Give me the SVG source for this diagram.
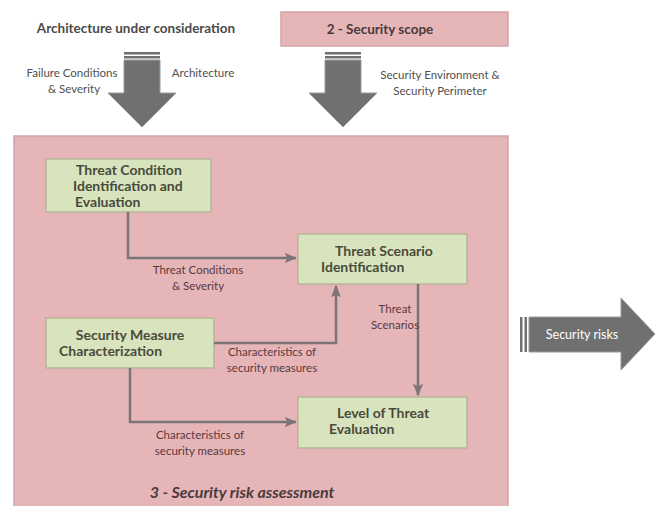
<svg xmlns="http://www.w3.org/2000/svg" width="657" height="506" viewBox="0 0 657 506">
<defs>
<style>
.pink{fill:#e6b5b8;stroke:#d2a4a6;stroke-width:1.5}
.node{fill:#d8e4bd;stroke:#b9b59a;stroke-width:1.5}
.nt{font-family:Lato,"Open Sans",sans-serif;font-weight:bold;font-size:14px;fill:#4a4a3c}
.lbl{font-family:Lato,"Open Sans",sans-serif;font-size:11.5px;fill:#5a3a3c;text-anchor:middle}
.top{font-family:Lato,"Open Sans",sans-serif;font-size:11.5px;fill:#505050;text-anchor:middle}
.conn{fill:none;stroke:#7c7476;stroke-width:2.5}
.big{fill:#707070;stroke:#9a9a9a;stroke-width:1}
.stripe{fill:#707070}
</style>
<marker id="ah" viewBox="0 0 10 10" refX="9" refY="5" markerWidth="5" markerHeight="5" orient="auto" markerUnits="strokeWidth">
<path d="M0,1 L10,5 L0,9 L2,5 Z" fill="#7c7476"/>
</marker>
</defs>
<rect width="657" height="506" fill="#ffffff"/>

<g id="arch-title">
<text x="136" y="33" class="nt" text-anchor="middle" style="fill:#4a4a4a;font-size:13.5px">Architecture under consideration</text>
</g>

<g id="security-scope">
<rect x="281" y="12" width="227" height="34" class="pink"/>
<text x="380" y="34" class="nt" text-anchor="middle" style="fill:#4a3a3a;font-size:13.5px">2 - Security scope</text>
</g>

<g id="input-arrow-left">
<rect x="124" y="52" width="36" height="2.5" class="stripe"/>
<rect x="124" y="56" width="36" height="2.5" class="stripe"/>
<path d="M124,60 L160,60 L160,93 L176,93 L142,127 L108,93 L124,93 Z" class="big"/>
</g>
<g id="input-arrow-right">
<rect x="325" y="52" width="36" height="2.5" class="stripe"/>
<rect x="325" y="56" width="36" height="2.5" class="stripe"/>
<path d="M325,60 L361,60 L361,93 L377,93 L343,127 L309,93 L325,93 Z" class="big"/>
</g>
<g id="input-labels">
<text x="72" y="77" class="top">Failure Conditions</text>
<text x="74" y="93" class="top">&amp; Severity</text>
<text x="203" y="77" class="top">Architecture</text>
<text x="440" y="79" class="top">Security Environment &amp;</text>
<text x="440" y="95" class="top">Security Perimeter</text>
</g>

<g id="risk-assessment">
<rect x="14" y="136" width="494" height="380" class="pink"/>
<text x="242" y="498" class="nt" text-anchor="middle" style="font-style:italic;font-size:16px;fill:#4a3a3c">3 - Security risk  assessment</text>
</g>

<g id="threat-condition">
<rect x="46" y="159" width="165" height="53" class="node"/>
<text x="76" y="175" class="nt">Threat Condition</text>
<text x="73" y="191" class="nt">Identification and</text>
<text x="75" y="207" class="nt">Evaluation</text>
</g>

<g id="threat-scenario">
<rect x="298" y="234" width="169" height="50" class="node"/>
<text x="335" y="256" class="nt">Threat Scenario</text>
<text x="321" y="272" class="nt">Identification</text>
</g>

<g id="security-measure">
<rect x="46" y="318" width="168" height="50" class="node"/>
<text x="130" y="340" class="nt" text-anchor="middle">Security Measure</text>
<text x="59" y="356" class="nt">Characterization</text>
</g>

<g id="level-of-threat">
<rect x="298" y="397" width="169" height="51" class="node"/>
<text x="337" y="418" class="nt">Level of Threat</text>
<text x="329" y="434" class="nt">Evaluation</text>
</g>

<g id="connectors">
<path d="M128,212 L128,258 L296,258" class="conn" marker-end="url(#ah)"/>
<path d="M214,343 L336,343 L336,286" class="conn" marker-end="url(#ah)"/>
<path d="M130,368 L130,422 L296,422" class="conn" marker-end="url(#ah)"/>
<path d="M418,284 L418,395" class="conn" marker-end="url(#ah)"/>
</g>
<g id="connector-labels">
<text x="198" y="274" class="lbl">Threat Conditions</text>
<text x="198" y="290" class="lbl">&amp; Severity</text>
<text x="272" y="356" class="lbl">Characteristics of</text>
<text x="272" y="372" class="lbl">security measures</text>
<text x="200" y="439" class="lbl">Characteristics of</text>
<text x="200" y="455" class="lbl">security measures</text>
<text x="395" y="313" class="lbl">Threat</text>
<text x="395" y="329" class="lbl">Scenarios</text>
</g>

<g id="security-risks">
<rect x="520" y="317" width="2.5" height="35" class="stripe"/>
<rect x="524.5" y="317" width="2.5" height="35" class="stripe"/>
<path d="M529,317 L621,317 L621,298 L655,334 L621,370 L621,352 L529,352 Z" class="big"/>
<text x="582" y="339" class="nt" text-anchor="middle" style="fill:#ffffff;font-weight:normal;font-size:12.5px">Security risks</text>
</g>
</svg>
